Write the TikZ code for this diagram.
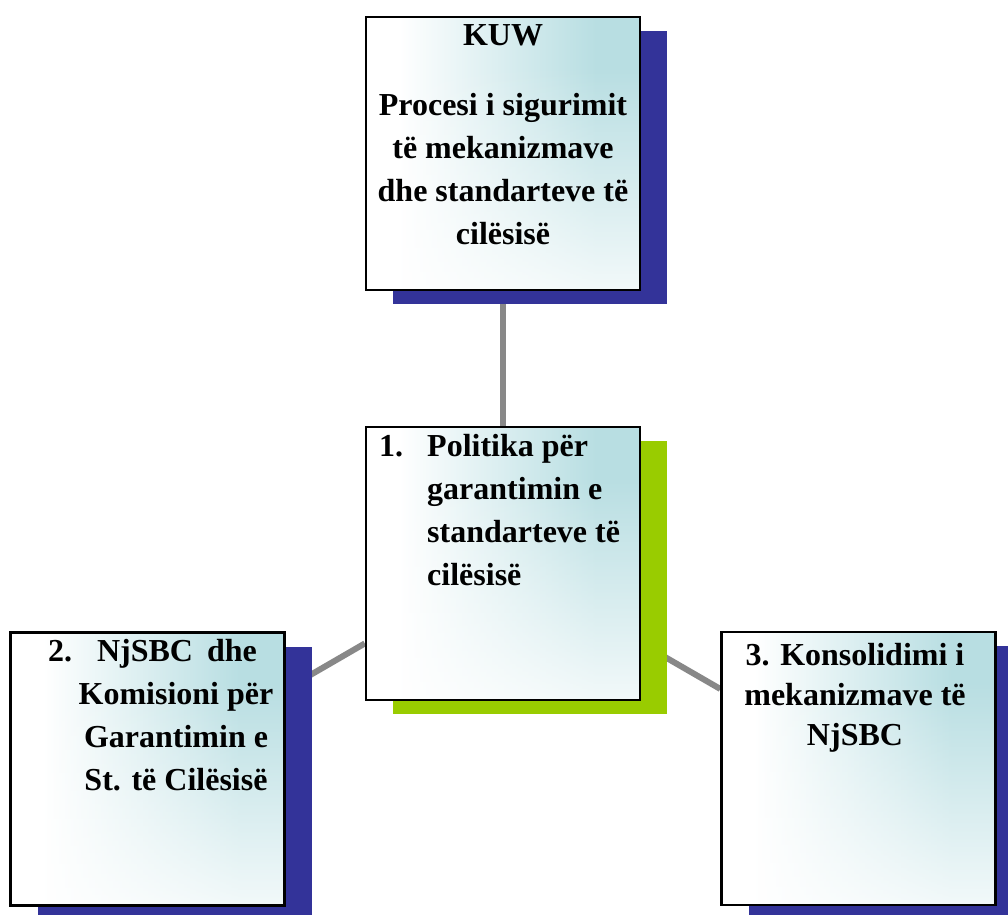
\documentclass[tikz,border=0pt]{standalone}
\usepackage{fontspec}
\setmainfont{Liberation Serif}
\usetikzlibrary{shadows,backgrounds,fadings}
\definecolor{boxteal}{RGB}{184,222,226}
\definecolor{shblue}{RGB}{51,51,153}
\definecolor{shgreen}{RGB}{153,204,0}
\definecolor{linkgray}{RGB}{136,136,136}
\pgfdeclarehorizontalshading{boxfade}{100bp}{color(0bp)=(white); color(31bp)=(white); color(67bp)=(boxteal); color(100bp)=(boxteal)}
\pgfdeclareverticalshading{lowmask}{100bp}{color(0bp)=(white); color(16bp)=(white); color(66bp)=(black); color(100bp)=(black)}
\pgfdeclarefading{lowwhite}{\pgfuseshading{lowmask}}
\begin{document}
\begin{tikzpicture}[x=0.5pt,y=-0.5pt,
    card/.style={draw=black,line width=1.2pt,shading=boxfade,
      minimum width=137pt,minimum height=136.5pt,inner sep=0pt,
      path picture={\fill[white,path fading=lowwhite] (path picture bounding box.south west) rectangle (path picture bounding box.north east);}},
    blueshadow/.style={general shadow={fill=shblue,shadow xshift=13.5pt,shadow yshift=-7pt}},
    greenshadow/.style={general shadow={fill=shgreen,shadow xshift=13.5pt,shadow yshift=-7pt}},
    txt/.style={font=\bfseries\fontsize{16}{21.5}\selectfont,inner sep=0pt},
    link/.style={draw=linkgray,line width=3pt}]
  \useasboundingbox (0,0) rectangle (1008,915);
  % boxes
  \node[card,blueshadow] (kuw) at (503,153.5) {};
  \node[card,greenshadow] (pol) at (503,563.5) {};
  \node[card,blueshadow] (njs) at (147.5,769) {};
  \node[card,blueshadow] (kon) at (858.5,768.5) {};
  % texts
  \node[txt,align=center,anchor=north] (kuwtext) at ([yshift=-4pt]kuw.north)
    {KUW\\[13.5pt]Procesi i sigurimit\\të mekanizmave\\dhe standarteve të\\cilësisë};
  \node[txt,align=left,anchor=north west] (poltext) at ([xshift=7pt,yshift=-4pt]pol.north west)
    {\makebox[24pt][l]{1.}Politika për\\\hspace*{24pt}garantimin e\\\hspace*{24pt}standarteve të\\\hspace*{24pt}cilësisë};
  \node[txt,align=center,anchor=north] (njstext) at ([xshift=14.25pt,yshift=-4pt]njs.north)
    {2.\hspace{12.5pt}NjSBC\hspace{7pt}dhe\hspace*{23.5pt}\\Komisioni për\\Garantimin e\\St. të Cilësisë};
  \node[txt,align=center,anchor=north,font=\bfseries\fontsize{16}{20}\selectfont] (kontext) at ([xshift=-1.75pt,yshift=-6pt]kon.north)
    {3. Konsolidimi i\\mekanizmave të\\NjSBC};
  % connectors
  \begin{pgfonlayer}{background}
    \draw[link] (kuw) -- (pol);
    \draw[link] (pol) -- (njs);
    \draw[link] (pol) -- (kon);
  \end{pgfonlayer}
\end{tikzpicture}
\end{document}
